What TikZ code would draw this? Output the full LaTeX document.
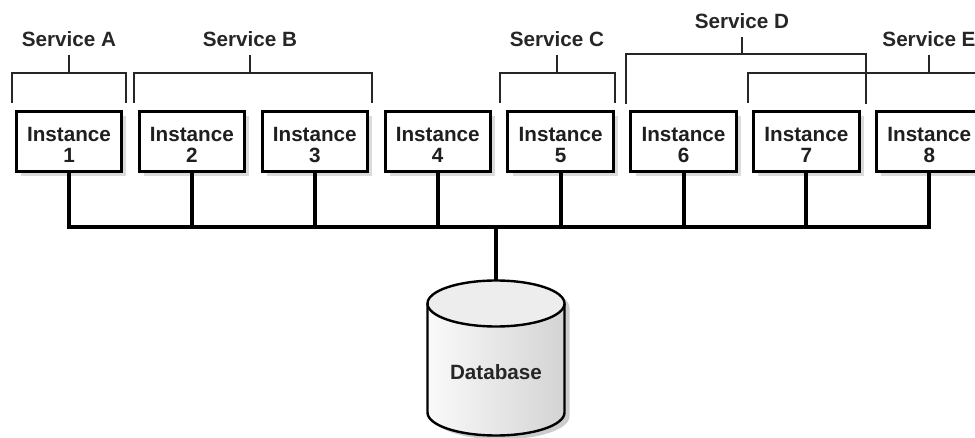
\documentclass[tikz,border=0pt]{standalone}
\usepackage{xcolor}
\usepackage{fontspec}
\setmainfont{Liberation Sans}
\usetikzlibrary{positioning,shadows}

\begin{document}
\begin{tikzpicture}[x=0.75pt,y=0.75pt,yscale=-1,xscale=1,
    inst/.style={draw, line width=2.2pt, fill=white, minimum width=79pt, minimum height=45.5pt, inner sep=0pt, align=center, font=\fontsize{15.5}{16}\selectfont\bfseries, text=black!88, drop shadow={shadow xshift=3.5pt, shadow yshift=-3.5pt, fill=black!14, opacity=1}},
    svc/.style={font=\fontsize{15.5}{16}\selectfont\bfseries, text=black!85, inner xsep=0pt, inner ysep=6pt, anchor=south},
    brk/.style={line width=1.1pt, black!85},
    bus/.style={line width=3pt},
    cyl/.style={line width=1.8pt}]
            \useasboundingbox (0,0) rectangle (975,438);

            % service labels and their brackets
            \node[svc] (sA) at (69,55) {Service A};
            \node[svc] (sB) at (250,55) {Service B};
            \node[svc] (sC) at (557,55) {Service C};
            \node[svc] (sD) at (742,37) {Service D};
            \node[svc] (sE) at (929,55) {Service E};
            \draw[brk] (12,103) |- (126,73) -- (126,103);
            \draw[brk] (134,103) |- (372,73) -- (372,103);
            \draw[brk] (500,103) |- (615,73) -- (615,103);
            \draw[brk] (626,104) |- (866,54) -- (866,104);
            \draw[brk] (748,103) |- (995,73) -- (995,103);
            \foreach \s in {A,B,C,E} \draw[brk] (s\s.south) -- (s\s.south |- 0,73);
            \draw[brk] (sD.south) -- (sD.south |- 0,54);

            % instances
            \foreach \n in {1,...,8}
                \node[inst] (i\n) at ({69+122.9*(\n-1)},141.5) {\rule{0pt}{15.6pt}Instance\\\n};

            % bus
            \coordinate (hub) at (496,227);
            \coordinate (dbtop) at (496,280);
            \draw[bus] (i1.south) |- (hub) -| (i8.south);
            \foreach \n in {2,...,7} \draw[bus] (i\n.south) -- (i\n.south |- hub);
            \draw[bus] (hub) -- (dbtop);

            % database
            \begin{scope}[shift={(5,4)}]
                \fill[black!20] (427.5,303.5) -- (427.5,412.5) arc[start angle=180, end angle=0, x radius=68.5, y radius=23] -- (564.5,303.5) arc[start angle=0, end angle=-180, x radius=68.5, y radius=23] -- cycle;
            \end{scope}
            \draw[cyl, left color=black!2, right color=black!17] (427.5,303.5) -- (427.5,412.5) arc[start angle=180, end angle=0, x radius=68.5, y radius=23] -- (564.5,303.5);
            \draw[cyl, fill=black!7] (496,303.5) ellipse [x radius=68.5, y radius=23];
            \node[font=\fontsize{15.5}{16}\selectfont\bfseries, text=black!85] (db) at (496,372) {Database};
\end{tikzpicture}
\end{document}
